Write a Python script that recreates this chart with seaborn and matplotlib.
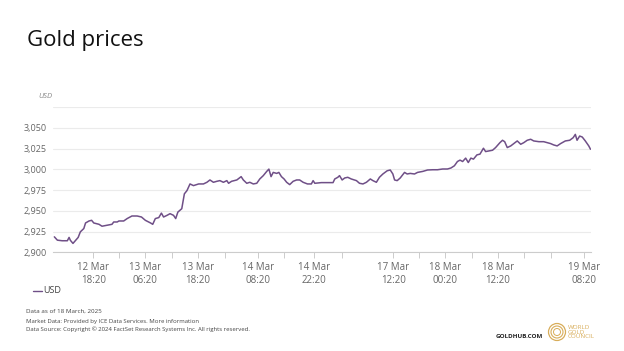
import numpy as np
import pandas as pd
import matplotlib.pyplot as plt
import seaborn as sns
from matplotlib.patches import Ellipse

# trading hours since start of window, and gold price (USD)
hours = [0.0, 0.7, 1.8, 3.0, 3.4, 3.7, 4.3, 4.9, 5.5, 6.0, 6.8, 7.2, 8.0, 8.6, 9.1,
         10.3, 11.0, 12.2, 13.3, 13.7, 14.5, 14.9, 16.0, 16.8, 17.9, 19.1, 20.1, 21.0,
         22.2, 22.7, 23.3, 24.1, 24.7, 25.2, 26.0, 26.7, 27.5, 28.0, 28.5, 29.4, 30.0,
         30.6, 31.3, 32.1, 33.3, 34.4, 35.2, 35.9, 36.7, 37.5, 38.2, 39.0, 39.8, 40.2,
         40.9, 42.1, 43.1, 43.6, 44.4, 45.1, 45.9, 46.7, 47.4, 48.2, 49.0, 49.5, 50.0,
         50.5, 51.3, 51.8, 52.4, 53.0, 53.6, 54.3, 55.1, 55.9, 56.6, 57.4, 58.4, 59.3,
         59.7, 60.1, 61.6, 63.2, 64.3, 64.7, 65.4, 65.8, 66.4, 67.0, 67.7, 68.5, 69.7,
         70.4, 71.2, 72.0, 72.9, 73.5, 74.3, 75.0, 75.8, 76.8, 77.5, 78.1, 78.5, 79.1,
         79.8, 80.8, 81.4, 82.1, 83.1, 83.8, 85.0, 86.1, 87.3, 88.4, 89.6, 90.7, 91.5,
         92.3, 93.0, 93.6, 94.2, 94.9, 95.5, 96.1, 96.7, 97.5, 98.2, 99.0, 99.5, 100.3,
         101.1, 101.8, 102.8, 103.4, 103.9, 104.5, 105.3, 106.0, 106.8, 107.6, 108.3,
         109.1, 109.9, 110.6, 111.8, 112.9, 113.7, 114.5, 115.2, 116.0, 116.8, 117.9,
         118.9, 119.7, 120.2, 120.6, 121.2, 121.8, 122.5, 123.3, 123.7]
price = [2918.7, 2914.7, 2914.0, 2914.0, 2918.0, 2914.5, 2910.8, 2914.5, 2918.0, 2924.7,
         2928.7, 2935.4, 2937.8, 2938.6, 2935.4, 2933.8, 2931.5, 2932.7, 2933.8, 2936.6,
         2936.6, 2937.8, 2937.8, 2940.7, 2943.8, 2943.8, 2942.6, 2938.6, 2935.4, 2933.8,
         2940.7, 2941.9, 2947.3, 2942.6, 2944.6, 2946.6, 2944.6, 2940.7, 2948.5, 2952.6,
         2970.5, 2974.4, 2982.4, 2980.4, 2982.4, 2982.4, 2984.4, 2987.2, 2984.4, 2985.6,
         2986.4, 2984.4, 2986.4, 2983.2, 2985.6, 2987.2, 2991.2, 2987.2, 2983.2, 2984.4,
         2982.4, 2983.2, 2988.4, 2992.4, 2997.5, 3000.3, 2991.2, 2996.3, 2995.1, 2996.3,
         2991.2, 2988.4, 2984.4, 2981.6, 2985.6, 2987.2, 2987.2, 2984.4, 2982.4, 2982.4,
         2986.4, 2983.2, 2984.0, 2984.0, 2984.0, 2988.4, 2990.4, 2992.4, 2987.2, 2989.6,
         2990.4, 2988.4, 2986.4, 2983.2, 2982.4, 2984.4, 2988.4, 2986.4, 2984.4, 2990.4,
         2994.4, 2998.3, 2999.2, 2994.4, 2987.2, 2986.4, 2989.6, 2996.3, 2994.4, 2995.1,
         2994.4, 2996.3, 2997.5, 2999.2, 2999.5, 2999.5, 3000.4, 3000.4, 3001.6, 3004.3,
         3009.4, 3011.1, 3009.4, 3013.5, 3008.2, 3013.5, 3012.3, 3017.4, 3018.3, 3025.4,
         3021.4, 3022.2, 3023.0, 3026.2, 3032.1, 3035.0, 3033.3, 3026.2, 3028.2, 3031.0,
         3034.2, 3030.2, 3032.1, 3035.0, 3036.2, 3034.2, 3033.3, 3033.3, 3032.1, 3031.0,
         3029.4, 3028.2, 3031.0, 3034.2, 3035.0, 3038.1, 3042.1, 3035.0, 3040.1, 3038.9,
         3034.2, 3028.2, 3024.2]

major_pos = [9.0, 20.9, 33.1, 47.1, 60.0, 78.2, 90.1, 102.3, 122.3]
major_labels = ["12 Mar\n18:20", "13 Mar\n06:20", "13 Mar\n18:20", "14 Mar\n08:20",
                "14 Mar\n22:20", "17 Mar\n12:20", "18 Mar\n00:20", "18 Mar\n12:20",
                "19 Mar\n08:20"]
minor_pos = [14.9, 27.1, 39.3, 53.1, 66.4, 84.1, 96.3, 108.3, 114.5]
y_ticks = [2900, 2925, 2950, 2975, 3000, 3025, 3050, 3075]
y_labels = ["2,900", "2,925", "2,950", "2,975", "3,000", "3,025", "3,050", ""]

df = pd.DataFrame({"hours": hours, "USD": price})

sns.set_style("white")
plt.rcParams["font.family"] = ["Open Sans", "DejaVu Sans"]

grey = "#666666"
purple = "#6f4f87"
gold = "#d8ad5a"
W, H = 624, 351

fig = plt.figure(figsize=(6.24, 3.51), dpi=100)
ax = fig.add_axes([0.085, 0.281, 0.862, 0.414])
sns.lineplot(data=df, x="hours", y="USD", ax=ax, color=purple, linewidth=1.1)

ax.set_xlim(-0.3, 123.8)
ax.set_ylim(2900, 3075)
ax.set_yticks(y_ticks)
ax.set_yticklabels(y_labels)
ax.set_xticks(major_pos)
ax.set_xticklabels(major_labels)
ax.set_xticks(minor_pos, minor=True)
ax.grid(axis="y", color="#ebebeb", linewidth=0.8)
ax.set_axisbelow(True)
ax.set_xlabel("")
ax.set_ylabel("")
for s in ["top", "right", "left"]:
    ax.spines[s].set_visible(False)
ax.spines["bottom"].set_color("#cccccc")
ax.spines["bottom"].set_linewidth(0.8)
ax.tick_params(axis="x", which="both", bottom=True, length=4, width=0.7,
               color="#cccccc", labelsize=7, labelcolor=grey, pad=3)
ax.tick_params(axis="y", left=False, labelsize=6.5, labelcolor=grey, pad=1)
if ax.get_legend():
    ax.get_legend().remove()

fig.text(0.043, 0.886, "Gold prices", fontsize=16, color="#111111", va="center")
fig.text(0.061, 0.724, "USD", fontsize=5.5, style="italic", color="#888888", va="center")

# legend
fig.lines.append(plt.Line2D([0.053, 0.067], [0.171, 0.171], transform=fig.transFigure,
                            color=purple, linewidth=1.0))
fig.text(0.070, 0.171, "USD", fontsize=6.5, color="#444444", va="center")

fig.text(0.042, 0.114, "Data as of 18 March, 2025", fontsize=4.5, color="#444444", va="center")
fig.text(0.042, 0.083, "Market Data: Provided by ICE Data Services. More information",
         fontsize=4.3, color="#444444", va="center")
fig.text(0.042, 0.063,
         "Data Source: Copyright \u00a9 2024 FactSet Research Systems Inc. All rights reserved.",
         fontsize=4.3, color="#444444", va="center")

# footer logo
fig.text(543 / W, 1 - 337 / H, "GOLDHUB.COM", fontsize=4.5, fontweight="bold",
         color="#222222", va="center", ha="right")
cx, cy = 557 / W, 1 - 332 / H
for r, w in [(8.5, 0.9), (6.0, 0.8), (3.5, 0.7)]:
    fig.patches.append(Ellipse((cx, cy), 2 * r / W, 2 * r / H, transform=fig.transFigure,
                               fill=False, edgecolor=gold, linewidth=w))
fig.text(568 / W, cy, "WORLD\nGOLD\nCOUNCIL", fontsize=4.5, color=gold,
         va="center", ha="left", linespacing=0.95)

fig.savefig("out.png", dpi=100)
